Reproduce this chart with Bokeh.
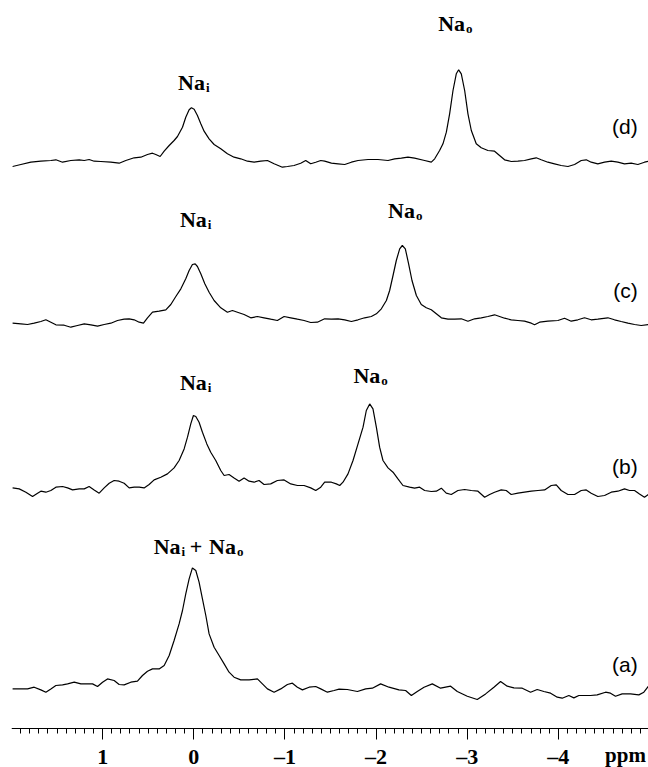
from bokeh.plotting import figure
from bokeh.models import Range1d, FixedTicker
from bokeh.embed import file_html
from bokeh.resources import INLINE
from bokeh.core.properties import value

# ---------------- data (chemical shift in ppm, intensity in a.u.) ----------------
ppm_a = [1.988, 1.897, 1.824, 1.751, 1.678, 1.623, 1.568, 1.513, 1.440, 1.385, 1.312, 1.239, 1.166, 1.111,
         1.056, 1.001, 0.947, 0.874, 0.819, 0.764, 0.691, 0.618, 0.563, 0.508, 0.453, 0.380, 0.325, 0.270,
         0.216, 0.161, 0.124, 0.088, 0.051, 0.015, -0.022, -0.058, -0.095, -0.132, -0.168, -0.223, -0.278,
         -0.333, -0.387, -0.442, -0.515, -0.607, -0.698, -0.753, -0.808, -0.881, -0.954, -1.027, -1.082,
         -1.137, -1.192, -1.265, -1.338, -1.393, -1.466, -1.539,
         -1.594, -1.685, -1.795, -1.886, -1.959, -2.050, -2.142, -2.251, -2.324, -2.387, -2.452, -2.526,
         -2.617, -2.708, -2.818, -2.891, -3.001, -3.110, -3.202, -3.293, -3.366, -3.439, -3.512, -3.604,
         -3.695, -3.768, -3.841, -3.915, -3.988, -4.042, -4.115, -4.170, -4.225, -4.280, -4.353, -4.426,
         -4.518, -4.572, -4.627, -4.700, -4.792, -4.883, -4.938, -4.989]
int_a = [-1.7, -1.7, -1.7, 0.0, -2.7, -5.0, -1.7, 1.7, 2.3, 3.3, 5.0, 3.3, 3.3, 3.3,
         0.7, 5.0, 8.3, 6.7, 2.7, 2.3, 5.0, 6.0, 11.7, 16.0, 18.3, 18.3, 21.7, 31.7,
         46.7, 63.3, 76.7, 93.3, 108.3, 119.3, 116.7, 105.0, 88.3, 71.7, 53.3, 40.0, 31.7,
         23.3, 15.0, 10.0, 7.3, 7.3, 8.3, 3.3, -1.7, -5.0, -1.7, 2.7, 4.0,
         0.0, -2.7, 0.0, 0.7, -1.7, -5.0, -3.3,
         -2.0, -2.3, -4.3, -1.7, -1.0, 3.3, 0.0, -2.7, -3.3, -8.3, -4.3, 0.0,
         3.3, -1.0, 1.0, -4.3, -9.0, -12.3, -6.7, 0.0, 5.7, 1.0, -0.7, -1.0,
         -5.0, -2.3, -4.3, -6.0, -10.0, -11.0, -8.3, -10.7, -8.3, -8.3, -8.3, -7.7,
         -5.0, -6.0, -9.0, -6.7, -6.7, -7.7, -5.0, 1.0]

ppm_b = [1.988, 1.915, 1.842, 1.769, 1.714, 1.678, 1.623, 1.568, 1.513, 1.440, 1.385, 1.330, 1.257, 1.202,
         1.148, 1.093, 1.038, 0.983, 0.928, 0.874, 0.819, 0.764, 0.709, 0.654, 0.599, 0.545, 0.490, 0.435,
         0.362, 0.289, 0.216, 0.161, 0.106, 0.069, 0.033, 0.004, -0.022, -0.058, -0.095, -0.143, -0.186,
         -0.241, -0.296, -0.333, -0.387, -0.442, -0.497, -0.552, -0.607, -0.662, -0.716, -0.771, -0.844,
         -0.917, -0.991, -1.064, -1.137, -1.210, -1.283, -1.338, -1.393, -1.436,
         -1.510, -1.564, -1.601, -1.637, -1.692, -1.747, -1.802, -1.857, -1.893, -1.930, -1.966, -2.003,
         -2.039, -2.076, -2.131, -2.186, -2.240, -2.295, -2.368, -2.423, -2.478, -2.533, -2.606, -2.661,
         -2.716, -2.770, -2.825, -2.898, -2.972, -3.045, -3.118, -3.191, -3.246, -3.300, -3.373, -3.428,
         -3.483, -3.556, -3.629, -3.703, -3.776, -3.849, -3.922, -3.977, -4.031, -4.105, -4.178, -4.251,
         -4.306, -4.360, -4.433, -4.507, -4.580, -4.653, -4.726, -4.781, -4.836, -4.890, -4.945, -4.989]
int_b = [-0.7, -1.7, -5.0, -9.3, -6.0, -4.0, -5.0, -3.3, 0.0, 0.7, -0.7, -2.7, -1.7, -1.7,
         0.7, -2.7, -6.0, -0.7, 4.0, 6.7, 6.0, 4.0, -0.7, 0.0, 0.0, -0.7, 2.7, 7.3,
         10.0, 13.3, 19.3, 26.7, 38.3, 50.0, 63.3, 71.7, 70.7, 65.0, 55.0, 43.3, 35.0,
         26.7, 16.7, 11.7, 12.7, 9.3, 6.0, 9.3, 6.0, 5.0, 6.7, 2.7, 3.3,
         6.7, 7.3, 3.3, 1.7, 1.7, -0.7, -3.3, 0.0, 5.0,
         5.0, 3.3, 1.7, 5.0, 13.3, 26.7, 43.3, 60.0, 76.7, 83.3, 78.3, 60.0,
         40.0, 26.7, 19.3, 15.0, 8.3, 1.7, 0.0, -1.0, 0.0, -3.3, -4.3, -4.0,
         -1.0, -6.0, -7.3, -3.3, -2.3, -3.3, -4.0, -10.0, -7.3, -5.0, -2.7, -3.3,
         -7.3, -6.0, -5.0, -4.0, -3.3, -2.7, 1.7, 2.3, -3.3, -7.3, -7.3, -3.3,
         -2.7, -6.0, -9.3, -8.3, -5.0, -4.0, -1.7, -3.3, -3.3, -6.7, -10.0, -7.3]

ppm_c = [1.988, 1.897, 1.824, 1.751, 1.678, 1.623, 1.568, 1.513, 1.422, 1.349, 1.276, 1.202, 1.129, 1.056,
         0.983, 0.910, 0.837, 0.764, 0.709, 0.654, 0.599, 0.552, 0.508, 0.453, 0.380, 0.307, 0.252, 0.197,
         0.142, 0.088, 0.051, 0.015, -0.015, -0.040, -0.077, -0.121, -0.168, -0.223, -0.296, -0.369, -0.424,
         -0.479, -0.552, -0.625, -0.698, -0.771, -0.844, -0.917, -0.991, -1.064, -1.137, -1.210, -1.283,
         -1.356, -1.436,
         -1.510, -1.583, -1.656, -1.729, -1.802, -1.875, -1.948, -2.003, -2.058, -2.113, -2.149, -2.186,
         -2.222, -2.259, -2.288, -2.321, -2.357, -2.394, -2.442, -2.496, -2.551, -2.606, -2.661, -2.716,
         -2.789, -2.862, -2.935, -3.008, -3.081, -3.154, -3.227, -3.300, -3.355, -3.410, -3.483, -3.556,
         -3.629, -3.703, -3.739, -3.794, -3.885, -3.995, -4.068, -4.141, -4.214, -4.287, -4.360, -4.433,
         -4.543, -4.616, -4.689, -4.763, -4.836, -4.909, -4.989]
int_c = [-2.7, -3.3, -4.0, -2.7, -1.0, 0.7, -1.7, -4.3, -4.7, -6.7, -5.0, -3.3, -4.3, -5.7,
         -4.0, -2.7, 0.0, 1.3, 1.7, 0.7, -1.7, -2.7, 2.7, 8.3, 9.3, 10.7, 16.0, 24.0,
         31.7, 41.7, 50.0, 56.0, 56.7, 54.0, 46.7, 36.7, 28.3, 20.0, 12.7, 8.3, 10.0,
         8.3, 6.0, 2.7, 4.0, 2.7, 1.3, 0.0, 4.0, 2.7, 1.3, 0.0, -2.0,
         -1.7, 1.7,
         1.3, 1.7, 0.7, -1.0, 0.7, 2.7, 4.0, 6.7, 11.7, 20.0, 30.0, 45.0,
         60.0, 71.7, 75.0, 71.7, 56.7, 40.0, 25.0, 16.0, 12.7, 10.7, 6.7, 2.7,
         1.3, 1.3, 1.7, -0.7, 1.7, 2.7, 4.0, 5.7, 4.0, 2.3, 0.7, 0.0,
         -0.7, -2.7, -4.3, -1.7, -0.7, 0.0, 2.3, -0.7, 0.7, 2.7, 0.7, 1.3,
         2.7, 0.7, -1.0, -2.7, -4.0, -5.0, -4.0]

ppm_d = [1.988, 1.897, 1.787, 1.678, 1.568, 1.513, 1.440, 1.349, 1.257, 1.202, 1.148, 1.093, 1.020, 0.910,
         0.819, 0.746, 0.654, 0.581, 0.508, 0.453, 0.417, 0.369, 0.325, 0.270, 0.216, 0.179, 0.124, 0.088,
         0.051, 0.026, -0.004, -0.040, -0.077, -0.113, -0.168, -0.223, -0.296, -0.369, -0.442, -0.515,
         -0.589, -0.662, -0.735, -0.808, -0.881, -0.972, -1.027, -1.100, -1.173, -1.228, -1.283, -1.338,
         -1.393, -1.436,
         -1.510, -1.583, -1.656, -1.729, -1.802, -1.912, -2.021, -2.131, -2.204, -2.277, -2.350, -2.423,
         -2.533, -2.606, -2.643, -2.697, -2.734, -2.771, -2.807, -2.844, -2.880, -2.906, -2.935, -2.972,
         -3.008, -3.045, -3.099, -3.154, -3.227, -3.300, -3.355, -3.410, -3.483, -3.556, -3.629, -3.703,
         -3.757, -3.812, -3.885, -3.958, -4.031, -4.105, -4.178, -4.251, -4.306, -4.360, -4.433, -4.507,
         -4.580, -4.653, -4.726, -4.799, -4.872, -4.945, -4.989]
int_d = [-4.0, -2.0, 0.3, 1.3, 2.0, 2.7, 0.3, 2.0, 2.7, 2.0, 3.0, 1.3, 1.0, 0.3,
         -0.7, 2.0, 4.7, 5.3, 8.0, 9.3, 8.0, 6.0, 11.3, 17.0, 22.0, 26.0, 35.3, 45.3,
         52.7, 54.7, 53.3, 47.0, 38.7, 31.3, 23.7, 18.0, 13.7, 8.7, 5.3, 3.7,
         1.3, 0.3, 1.3, 2.0, -1.3, -4.7, -4.0, -3.0, -0.7, 2.0, -1.3, 0.3,
         2.0, 1.3,
         -0.7, -1.3, -2.0, 0.3, 2.0, 3.0, 3.0, 2.0, 3.7, 4.3, 5.3, 4.3,
         2.0, 0.3, 3.7, 12.0, 18.7, 30.3, 48.7, 72.0, 88.7, 92.7, 88.7, 72.0,
         48.7, 32.0, 18.7, 14.7, 12.0, 11.3, 7.0, 2.7, 1.0, 1.3, 2.0, 3.7,
         4.7, 2.7, 0.3, -1.3, -3.0, -4.0, -2.0, 2.0, 2.7, 0.3, -1.3, 0.3,
         1.3, 0.3, -1.3, -0.7, -2.0, 0.3, 1.3]

spectra = ["a", "b", "c", "d"]
tags = ["(a)", "(b)", "(c)", "(d)"]
major_ticks = [1, 0, -1, -2, -3, -4]
tick_labels = ["1", "0", "\u20131", "\u20132", "\u20133", "\u20134"]
axis_unit = "ppm"
axis_unit_ppm = -4.737
label_ppm_i = {"b": -0.02, "c": -0.02, "d": 0.0}
label_ppm_o = {"b": -1.94, "c": -2.32, "d": -2.87}
label_ppm_ab = -0.058

# ---------------- layout ----------------
H = 728        # y of the axis line, px from the top
TOTAL_H = 767
offset = {"a": H - 686.7, "b": H - 486.7, "c": H - 320.0, "d": H - 162.0}
tag_y = {"a": H - 664, "b": H - 466, "c": H - 290, "d": H - 126}
lab_i_y = {"b": H - 382, "c": H - 219, "d": H - 82}
lab_o_y = {"b": H - 375, "c": H - 210, "d": H - 23}
lab_ab_y = H - 546
unit_y = H - 754

p = figure(width=648, height=TOTAL_H, output_backend="svg", toolbar_location=None,
           x_range=Range1d(2.0, -4.989), y_range=Range1d(H - TOTAL_H, H),
           min_border_left=11, min_border_right=0, min_border_top=0, min_border_bottom=0)
p.background_fill_color = "white"
p.border_fill_color = "white"
p.outline_line_color = None
p.grid.visible = False
p.yaxis.visible = False

ax = p.xaxis[0]
ax.fixed_location = 0
minor = [round(k * 0.1, 1) for k in range(-49, 20) if k % 10 != 0]
ax.ticker = FixedTicker(ticks=major_ticks, minor_ticks=minor)
ax.major_label_overrides = {float(t): s for t, s in zip(major_ticks, tick_labels)}
ax.axis_line_color = "black"
ax.axis_line_width = 1
ax.major_tick_line_color = "black"
ax.minor_tick_line_color = "black"
ax.major_tick_out = 11
ax.major_tick_in = 0
ax.minor_tick_out = 5
ax.minor_tick_in = 0
ax.major_label_standoff = 4
ax.major_label_text_font = "Liberation Serif"
ax.major_label_text_font_style = "bold"
ax.major_label_text_font_size = "22px"
ax.major_label_text_color = "black"

data = {"a": (ppm_a, int_a), "b": (ppm_b, int_b), "c": (ppm_c, int_c), "d": (ppm_d, int_d)}
for s in spectra:
    xs, ys = data[s]
    p.line(xs, [v + offset[s] for v in ys], line_color="black", line_width=1.2)

serif = value("Liberation Serif")
sans = value("Liberation Sans")

def piece(x, y, txt, size, align, dx, dy=0):
    p.text([x], [y], text=[txt], text_font=serif, text_font_style="bold", text_font_size=size,
           text_align=align, text_baseline="middle", x_offset=dx, y_offset=dy, text_color="black")

def na_label(x, y, sub, sub_w):
    w = 27 + 1 + sub_w
    right = w / 2 - sub_w - 1
    piece(x, y, "Na", "22px", "right", right)
    piece(x, y, sub, "13px", "left", right + 1, 5)

for s in ["b", "c", "d"]:
    na_label(label_ppm_i[s], lab_i_y[s], "i", 3.6)
    na_label(label_ppm_o[s], lab_o_y[s], "o", 6.5)

# (a) combined label "Na_i + Na_o"
piece(label_ppm_ab, lab_ab_y, "Na", "22px", "right", -18.5)
piece(label_ppm_ab, lab_ab_y, "i", "13px", "left", -17.5, 5)
piece(label_ppm_ab, lab_ab_y, "+", "22px", "center", -3)
piece(label_ppm_ab, lab_ab_y, "Na", "22px", "left", 10)
piece(label_ppm_ab, lab_ab_y, "o", "13px", "left", 38, 5)

# trace tags
for s, t in zip(spectra, tags):
    p.text([-4.87], [tag_y[s]], text=[t], text_font=sans, text_font_size="21px",
           text_align="right", text_baseline="middle", text_color="black")

# axis unit, on the tick-label row
p.text([axis_unit_ppm], [unit_y], text=[axis_unit], text_font=serif, text_font_style="bold",
       text_font_size="21px", text_align="center", text_baseline="middle", text_color="black")

open("out.html", "w").write(file_html(p, INLINE))
